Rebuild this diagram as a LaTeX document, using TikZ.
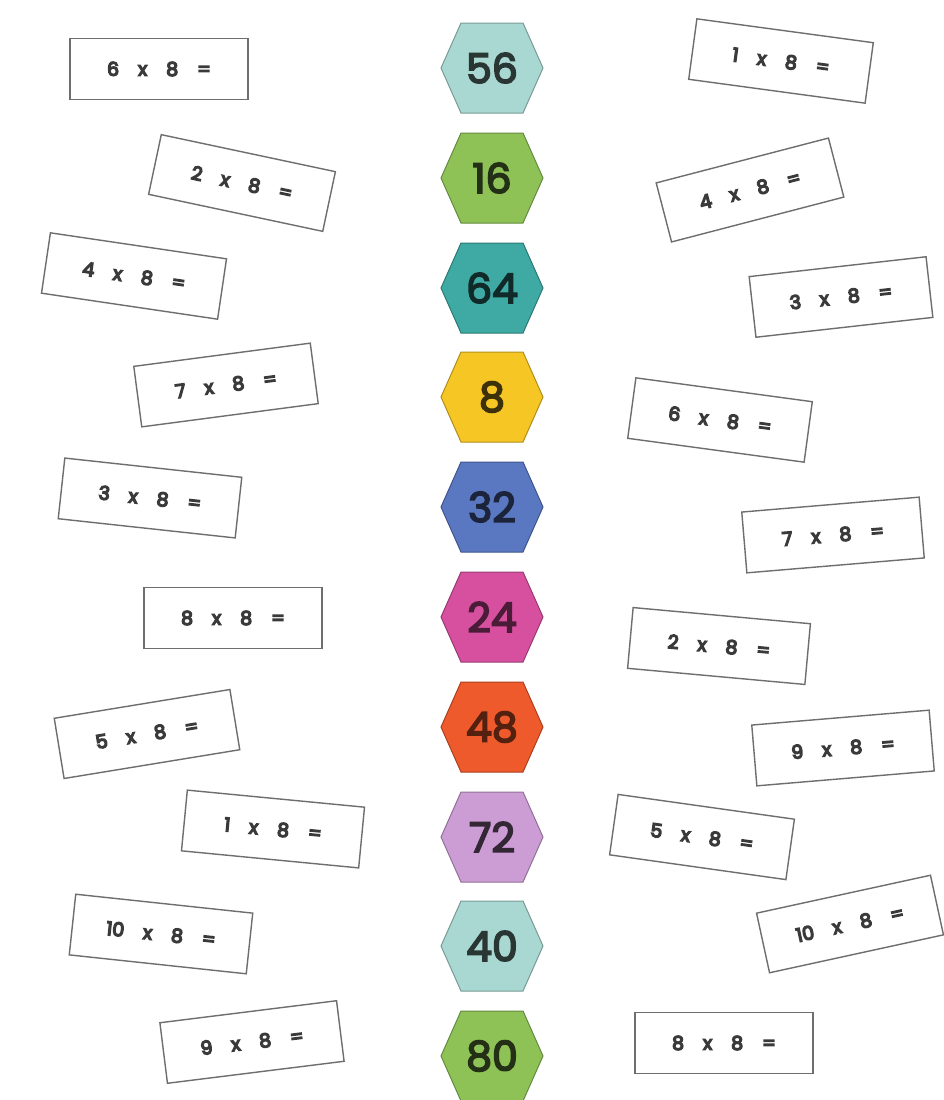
\documentclass[tikz,border=0pt]{standalone}
\usepackage{fontspec}
\font\hexfnt="Poppins:embolden=4" at 41pt
\font\boxfnt="Poppins:embolden=7" at 19pt
\definecolor{cTealL}{HTML}{A8D8D1}
\definecolor{cGreen}{HTML}{8EC257}
\definecolor{cTeal}{HTML}{3FA9A3}
\definecolor{cYellow}{HTML}{F6C624}
\definecolor{cBlue}{HTML}{5A77C2}
\definecolor{cMagenta}{HTML}{D6509F}
\definecolor{cOrange}{HTML}{EF5A2C}
\definecolor{cLilac}{HTML}{CC9DD4}
\definecolor{boxline}{HTML}{6E6E6E}
\definecolor{boxtext}{HTML}{3A3A3A}
\newcommand\widespaces{\spaceskip=19pt\relax}
\tikzset{
  card/.style={draw=boxline, line width=1.4pt, fill=white, minimum width=178pt,
    minimum height=61pt, inner sep=0pt, text=boxtext,
    font=\boxfnt,
    execute at begin node=\widespaces},
  hexlabel/.style={inner sep=0pt, font=\hexfnt},
  hexshape/.style={line width=1pt}
}
\newcommand\hexnode[5]{%
  \begin{scope}[shift={(492,#2)}]
    \filldraw[hexshape, fill=#3, draw=#3!72!black]
      (-51,0) -- (-31,-45) -- (31,-45) -- (51,0) -- (31,45) -- (-31,45) -- cycle;
  \end{scope}
  \node[hexlabel, text=#4] (#1) at (492,#2) {#5};
}
\begin{document}
\begin{tikzpicture}[x=1pt, y=-1pt]
\useasboundingbox (0,0) rectangle (944,1100);
\fill[white] (0,0) rectangle (944,1100);

% hexagons
\hexnode{h56}{68}{cTealL}{cTealL!25!black}{56}
\hexnode{h16}{178}{cGreen}{cGreen!25!black}{16}
\hexnode{h64}{288}{cTeal}{cTeal!25!black}{64}
\hexnode{h8}{397}{cYellow}{cYellow!25!black}{8}
\hexnode{h32}{507}{cBlue}{cBlue!30!black}{32}
\hexnode{h24}{617}{cMagenta}{cMagenta!35!black}{24}
\hexnode{h48}{727}{cOrange}{cOrange!35!black}{48}
\hexnode{h72}{837}{cLilac}{cLilac!25!black}{72}
\hexnode{h40}{946}{cTealL}{cTealL!25!black}{40}
\hexnode{h80}{1056}{cGreen}{cGreen!25!black}{80}

% left cards
\node[card, rotate=0]    (l1)  at (159,69)   {6 x 8 =};
\node[card, rotate=-12]  (l2)  at (242,183)  {2 x 8 =};
\node[card, rotate=-8.4] (l3)  at (134,276)  {4 x 8 =};
\node[card, rotate=7.5]  (l4)  at (226,385)  {7 x 8 =};
\node[card, rotate=-6.2] (l5)  at (150,498)  {3 x 8 =};
\node[card, rotate=0]    (l6)  at (233,618)  {8 x 8 =};
\node[card, rotate=9.3]  (l7)  at (147,734)  {5 x 8 =};
\node[card, rotate=-5.5] (l8)  at (273,829)  {1 x 8 =};
\node[card, rotate=-6.1] (l9)  at (161,934)  {10 x 8 =};
\node[card, rotate=7.1]  (l10) at (252,1042) {9 x 8 =};

% right cards
\node[card, rotate=-7.7] (r1)  at (781,61)   {1 x 8 =};
\node[card, rotate=14.6] (r2)  at (750,190)  {4 x 8 =};
\node[card, rotate=6.4]  (r3)  at (841,297)  {3 x 8 =};
\node[card, rotate=-7.7] (r4)  at (720,420)  {6 x 8 =};
\node[card, rotate=4.8]  (r5)  at (833,535)  {7 x 8 =};
\node[card, rotate=-5.2] (r6)  at (719,646)  {2 x 8 =};
\node[card, rotate=4.8]  (r7)  at (843,748)  {9 x 8 =};
\node[card, rotate=-8]   (r8)  at (702,837)  {5 x 8 =};
\node[card, rotate=12.3] (r9)  at (850,924)  {10 x 8 =};
\node[card, rotate=0]    (r10) at (724,1043) {8 x 8 =};
\end{tikzpicture}
\end{document}
